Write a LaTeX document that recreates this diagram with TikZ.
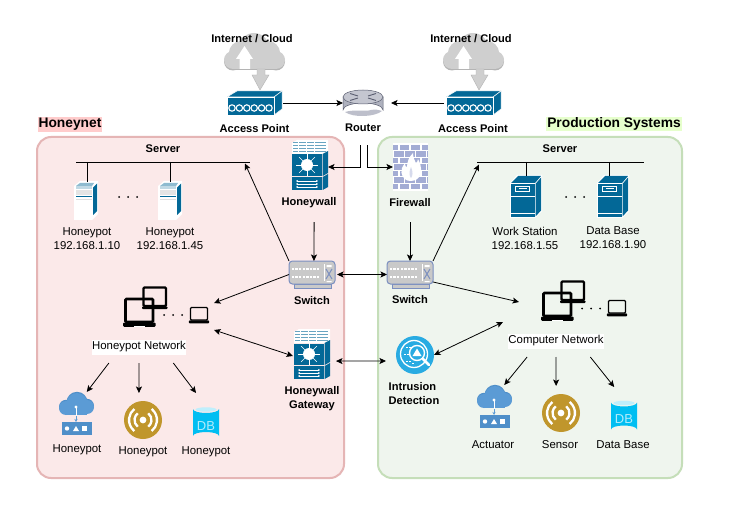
\documentclass[tikz,border=0pt]{standalone}
\usepackage{fontspec}
\setmainfont{Liberation Sans}
\usetikzlibrary{arrows.meta}
\definecolor{cisco}{HTML}{036897}
\definecolor{pinkfill}{HTML}{FBE9E9}
\definecolor{pinkline}{HTML}{E5B5B5}
\definecolor{greenfill}{HTML}{EFF5EE}
\definecolor{greenline}{HTML}{C5DEB9}
\definecolor{pinklabel}{HTML}{FFCCCC}
\definecolor{greenlabel}{HTML}{E6FFCC}
\definecolor{cloudgrey}{HTML}{CFCFCF}
\definecolor{cloudshade}{HTML}{B4B4B4}
\definecolor{brick}{HTML}{A3ACD4}
\definecolor{swgrey}{HTML}{C9C9C9}
\definecolor{swline}{HTML}{7B8FC0}
\definecolor{idsblue}{HTML}{29ABE2}
\definecolor{gold}{HTML}{C0962C}
\definecolor{dbblue}{HTML}{00BEF2}
\definecolor{cloudblue}{HTML}{5B9BD5}
\definecolor{devblue}{HTML}{4F8FC9}
\definecolor{routerbody}{HTML}{AEB1BE}
\definecolor{routertop}{HTML}{C4C6D0}
\definecolor{routerwave}{HTML}{BDBFCB}
\definecolor{routerline}{HTML}{5A5E70}
\tikzset{
  conn/.style={line width=0.8pt,-{Stealth[length=6.5pt,width=6pt,inset=1.5pt]}},
  biconn/.style={line width=0.8pt,{Stealth[length=6.5pt,width=6pt,inset=1.5pt]}-{Stealth[length=6.5pt,width=6pt,inset=1.5pt]}},
  plainline/.style={line width=0.9pt},
  iconbox/.style={rectangle,inner sep=0pt,outer sep=0pt},
  lab/.style={font=\fontsize{11.4}{14}\selectfont,align=center,inner sep=0pt},
  blab/.style={font=\fontsize{11.1}{14}\selectfont\bfseries,align=center,inner sep=0pt},
  panel/.style={rounded corners=14pt,line width=2pt},
  title/.style={font=\fontsize{13.8}{16}\selectfont\bfseries,inner sep=1pt},
  greycloud/.pic={
    \foreach \dy/\col in {1.5/cloudshade,0/cloudgrey}{
      \begin{scope}[yshift=-\dy pt]
        \fill[\col] (30,15) circle[radius=15];
        \fill[\col] (17,20) circle[radius=12];
        \fill[\col] (44,20) circle[radius=12];
        \fill[\col] (9,27) circle[radius=9];
        \fill[\col] (52,27) circle[radius=9];
        \fill[\col] (9,22) rectangle (52,36);
      \end{scope}
    }
    \fill[white] (15.5,36) -- (15.5,26) -- (12,26) -- (20.5,13) -- (29,26) -- (26,26) -- (26,36) -- cycle;
    \fill[cloudgrey,draw=cloudshade,line width=0.4pt] (33,36) -- (33,42) -- (28,42) -- (36,57) -- (45,42) -- (41,42) -- (41,36) -- cycle;
  },
  accesspoint/.pic={
    \fill[cisco,draw=white,line width=0.5pt] (0,0) -- (10,-6) -- (55,-6) -- (47,0) -- cycle;
    \fill[cisco,draw=white,line width=0.5pt] (47,0) -- (55,-6) -- (55,12) -- (47,18) -- cycle;
    \fill[cisco,draw=white,line width=0.5pt] (0,0) rectangle (47,18);
    \foreach \i in {5,12.4,19.8,27.2,34.6,42}
      \draw[white,line width=1.1pt] (\i,11) circle[radius=3.2];
  },
  routericon/.pic={
    \fill[routerbody,draw=routerline,line width=0.5pt] (-20,7) -- (-20,20) arc[start angle=180,end angle=360,x radius=20,y radius=7] -- (20,7) -- cycle;
    \fill[routerwave] (-18,22) .. controls (-8,19) and (2,22) .. (8,20) .. controls (12,19) and (16,20) .. (19,21) .. controls (12,27) and (-10,28) .. (-18,22) -- cycle;
    \fill[routertop,draw=routerline,line width=0.5pt] (0,7) ellipse[x radius=20,y radius=7];
    \draw[routerline,line width=0.9pt] (-13,3.5) -- (-5,6) (13,3.5) -- (5,6) (-13,10.5) -- (-5,8) (13,10.5) -- (5,8);
  },
  firewallicon/.pic={
    \fill[brick] (0,0) rectangle (35,46);
    \foreach \r in {0,1,...,7}
      \draw[white,line width=1.1pt] (0,\r*6.57) -- (35,\r*6.57);
    \foreach \r in {0,2,4,6}
      \foreach \c in {6,17,28}
        \draw[white,line width=1.1pt] (\c,\r*6.57) -- (\c,\r*6.57+6.57);
    \foreach \r in {1,3,5}
      \foreach \c in {0.5,11.5,22.5,33.5}
        \draw[white,line width=1.1pt] (\c,\r*6.57) -- (\c,\r*6.57+6.57);
    \fill[white] (18,37) .. controls (10,37) and (7,30) .. (9,24) .. controls (10,22) and (11,20) .. (12,20) .. controls (12,22) and (13,23) .. (14,23) .. controls (14,18) and (16,13) .. (20,9) .. controls (20,14) and (22,17) .. (23,19) .. controls (24,18) and (25,17) .. (25,15) .. controls (29,21) and (29,30) .. (26,33) .. controls (24,36) and (21,37) .. (18,37) -- cycle;
    \fill[brick!45] (18,34) .. controls (16,32) and (16,27) .. (18,23) .. controls (20,27) and (20,32) .. (18,34) -- cycle;
  },
  wallicon/.pic={
    \fill[white] (0,3) -- (5,0) -- (36,0) -- (36,11) -- (30,14) -- (0,14) -- cycle;
    \foreach \y in {2,5,8,11}
      \draw[cisco!60,line width=1pt] (1,\y+.5) -- (34,\y+.5);
    \foreach \x in {6,14,22}
      \draw[white,line width=.7pt] (\x,1) -- (\x,13);
    \fill[cisco] (0,14.5) rectangle (30,36);
    \fill[cisco] (30.6,14) -- (36,11) -- (36,33) -- (30.6,36) -- cycle;
    \fill[white] (15,25) circle[radius=6];
    \foreach \a in {0,45,...,315}
      \draw[white,line width=0.7pt] (15,25) -- +(\a:11);
    \fill[cisco] (0,37) rectangle (30,50);
    \fill[cisco] (30.6,37) -- (36,34) -- (36,47) -- (30.6,50) -- cycle;
    \foreach \y/\s in {41/1,44/0,47/1}
      \draw[white,line width=0.7pt,{Stealth[length=2pt,width=2pt]}-{Stealth[length=2pt,width=2pt]}] (4,\y) -- (26,\y);
  },
  whiteserver/.pic={
    \fill[white] (0,5) -- (6,0) -- (24,0) -- (24,33) -- (18,39) -- (0,39) -- cycle;
    \fill[cisco] (19,6.5) -- (23,2.5) -- (23,30) -- (19,34) -- cycle;
    \fill[cisco!25] (2,5) rectangle (18,8);
    \fill[cisco!45] (6,2) -- (20,2) -- (18,5) -- (2,5) -- cycle;
    \fill[swgrey!50] (2,9) rectangle (18,14);
    \draw[cisco,line width=0.9pt] (2,15.5) -- (18,15.5);
    \draw[swgrey!60,line width=0.5pt] (2,18) -- (18,18);
  },
  blueserver/.pic={
    \fill[white] (-1,7) -- (6,-1) -- (31,-1) -- (31,35) -- (24,42) -- (-1,42) -- cycle;
    \fill[cisco] (0,7) -- (7,0) -- (30,0) -- (24,7) -- cycle;
    \fill[cisco] (0,8) rectangle (23.5,41);
    \fill[cisco] (24.5,8) -- (30,1.5) -- (30,34.5) -- (24.5,40.5) -- cycle;
    \draw[white,line width=0.6pt] (4,10) rectangle (18,15);
    \fill[white] (8,11.7) rectangle (16,13.3);
    \draw[white,line width=0.8pt] (0,20.5) -- (23.5,20.5) (0,37) -- (23.5,37);
  },
  switchicon/.pic={
    \fill[swgrey,draw=swline,line width=0.7pt] (5,23) rectangle (42,27);
    \fill[swgrey,draw=swline,line width=1pt,rounded corners=3.5pt] (0,0) rectangle (46,23);
    \foreach \y in {8,16}
      \foreach \x in {4,7.6,...,32}
        \fill[white] (\x-1.2,\y-1.2) rectangle (\x+1.2,\y+1.2);
    \draw[white,line width=0.8pt] (35,3) -- (35,20);
    \draw[swline,line width=1pt] (37,8) -- (43,18) (43,8) -- (37,18);
    \fill[white] (37.5,4) rectangle (42.5,6) (37.5,20) rectangle (42.5,21);
  },
  idsicon/.pic={
    \fill[idsblue] (0,0) circle[radius=19];
    \draw[white,line width=1.3pt] (-1,-1) circle[radius=13.5];
    \fill[idsblue] (2,-2) circle[radius=8.5];
    \draw[white,line width=1.4pt] (2,-2) circle[radius=7.5];
    \fill[white] (2,-6.5) -- (6.5,1) -- (-2.5,1) -- cycle;
    \draw[white,line width=2.5pt,line cap=round] (8,4) -- (14,10);
    \foreach \x/\y in {-8/-8,-5/-8,-10/-1,-7/-1,-8/6,-5/6,-2/8}
      \draw[white,line width=0.6pt] (\x-1,\y) -- (\x+1,\y);
  },
  bluecloud/.pic={
    \foreach \dy/\col in {-1.2/devblue,0/cloudblue}{
      \begin{scope}[yshift=-\dy pt]
        \fill[\col] (18,10.5) circle[radius=10.5];
        \fill[\col] (7,15) circle[radius=7];
        \fill[\col] (28,14) circle[radius=7];
        \fill[\col] (7,14) rectangle (28,21.5);
      \end{scope}
    }
    \fill[white] (17,14) circle[radius=1.7];
    \draw[white,line width=0.8pt] (17,14) -- (17,22.5);
    \draw[cloudblue,line width=0.8pt,-{Stealth[length=3pt,width=3pt]}] (17,22.7) -- (17,29);
    \fill[devblue] (3,29) rectangle (33,42);
    \fill[white] (8,35.5) circle[radius=2.2];
    \fill[white] (17,33) -- (20,38) -- (14,38) -- cycle;
    \fill[white] (23,33.2) rectangle (28,38);
  },
  sensoricon/.pic={
    \fill[gold] (0,0) circle[radius=19];
    \fill[white] (0,0) circle[radius=3.4];
    \foreach \r in {8.5,14}{
      \draw[white,line width=2.3pt] (-52:\r) arc[start angle=-52,end angle=52,radius=\r];
      \draw[white,line width=2.3pt] (128:\r) arc[start angle=128,end angle=232,radius=\r];
    }
  },
  dbicon/.pic={
    \fill[dbblue] (0,4) -- (0,31) arc[start angle=180,end angle=360,x radius=13,y radius=4] -- (26,4) arc[start angle=0,end angle=180,x radius=13,y radius=4] -- cycle;
    \fill[white!75!dbblue] (13,4.5) ellipse[x radius=10.5,y radius=2.2];
  },
}
\newcommand{\laptopicon}[6]{%
  \draw[black,line width=#6,rounded corners=1pt] (#1,#2) rectangle (#3,#4);
  \fill[black,rounded corners=1pt] ({#1-#5},#4+#5*0.2) rectangle ({#3+#5},{#4+#5*1.7+0.5});
}
\begin{document}
\begin{tikzpicture}[x=1pt,y=-1pt]
\fill[white] (0,0) rectangle (747,505);
\useasboundingbox (0,0) rectangle (747,505);

% panels
\draw[panel,fill=pinkfill,draw=pinkline] (37,137) rectangle (344,478);
\draw[panel,fill=greenfill,draw=greenline] (378,137) rectangle (682,478);
\node[title,fill=pinklabel] (honeynet) at (70,124.5) {Honeynet};
\node[title,fill=greenlabel] (production) at (614,124) {Production Systems};

% icons
\pic at (224,33) {greycloud};
\pic at (443,33) {greycloud};
\pic at (227,97) {accesspoint};
\pic at (446,97) {accesspoint};
\pic at (363,90) {routericon};
\pic at (393,144) {firewallicon};
\pic at (292,140) {wallicon};
\pic at (294,329) {wallicon};
\pic at (74,181) {whiteserver};
\pic at (158,181) {whiteserver};
\pic at (511,176) {blueserver};
\pic at (598,176) {blueserver};
\pic at (289,261) {switchicon};
\pic at (387,261) {switchicon};
\pic at (415,355) {idsicon};

% laptops left
\laptopicon{143.5}{287.5}{166}{306}{1.5}{2.2pt}
\laptopicon{125.5}{299}{153}{322}{2.5}{2.6pt}
\laptopicon{190.5}{307.5}{207.5}{320}{1.7}{1.4pt}
\fill[white] (134,325.5) rectangle (145,327);
% laptops right
\laptopicon{561.5}{281.5}{584}{300}{1.5}{2.2pt}
\laptopicon{543.5}{293}{571}{316}{2.5}{2.6pt}
\laptopicon{608.5}{300.5}{625.5}{313}{1.7}{1.4pt}
\fill[white] (552,319.5) rectangle (563,321);

\foreach \x in {164,173,182} \fill (\x,315) circle[radius=1];
\foreach \x in {582,591,600} \fill (\x,308.5) circle[radius=1];
\foreach \x in {119,128,137} \fill (\x,197) circle[radius=1];
\foreach \x in {566,575,584} \fill (\x,197) circle[radius=1];

\pic at (59,393) {bluecloud};
\pic at (477,386) {bluecloud};
\pic at (143,420) {sensoricon};
\pic at (561,413) {sensoricon};
\pic at (193,405) {dbicon};
\pic at (611,398.5) {dbicon};

% invisible boxes marking each icon
\node[iconbox,minimum width=56,minimum height=24] (apL) at (255,103) {};
\node[iconbox,minimum width=57,minimum height=24] (apR) at (472.5,103) {};
\node[iconbox,minimum width=48,minimum height=27] (router) at (367,103) {};
\node[iconbox,minimum width=36,minimum height=46] (honeywall) at (310,167) {};
\node[iconbox,minimum width=35,minimum height=46] (firewall) at (410.5,167) {};
\node[iconbox,minimum width=48,minimum height=27] (swL) at (313,274.5) {};
\node[iconbox,minimum width=46,minimum height=27] (swR) at (410,274.5) {};
\node[iconbox,minimum width=43,minimum height=51] (gateway) at (314.5,354.5) {};
\node[iconbox,minimum width=48,minimum height=38] (ids) at (410,355) {};
\node[iconbox,minimum width=94,minimum height=44] (netL) at (167,308) {};
\node[iconbox,minimum width=113,minimum height=44] (netR) at (575.5,302) {};
\node[iconbox,minimum width=24,minimum height=40] (srvA) at (87,202) {};
\node[iconbox,minimum width=24,minimum height=40] (srvB) at (170,202) {};
\node[iconbox,minimum width=30,minimum height=42] (srvC) at (526,197) {};
\node[iconbox,minimum width=30,minimum height=42] (srvD) at (609,197) {};
\node[iconbox,minimum width=35,minimum height=44] (actL) at (76.5,414) {};
\node[iconbox,minimum width=35,minimum height=44] (actR) at (494.5,407) {};
\node[iconbox,minimum width=38,minimum height=46] (senL) at (143,416) {};
\node[iconbox,minimum width=38,minimum height=46] (senR) at (561,409) {};
\node[iconbox,minimum width=26,minimum height=47] (dbL) at (206,416.5) {};
\node[iconbox,minimum width=27,minimum height=46] (dbR) at (623.5,410) {};
\node[iconbox,minimum width=174,minimum height=0] (busL) at (163,162) {};
\node[iconbox,minimum width=167,minimum height=0] (busR) at (560.5,162) {};
\coordinate (tapL) at (245,163.5);
\coordinate (tapR) at (479,164.5);
\coordinate (netRin) at (503,322);

% labels
\node[blab] (cloudLlab) at (252,39) {Internet / Cloud};
\node[blab] (cloudRlab) at (471,39) {Internet / Cloud};
\node[blab] (apLlab) at (254.5,129) {Access Point};
\node[blab] (apRlab) at (473,129) {Access Point};
\node[blab,minimum height=34] (routerlab) at (363,128) {Router};
\node[blab] (serverL) at (163,149) {Server};
\node[blab] (serverR) at (560,149) {Server};
\node[blab,minimum height=38] (hwlab) at (309,203) {Honeywall};
\node[blab,minimum height=38] (fwlab) at (410,203) {Firewall};
\node[blab] (swLlab) at (312,301) {Switch};
\node[blab] (swRlab) at (410,300) {Switch};
\node[blab] (gwlab) at (312,399) {Honeywall\\Gateway};
\node[blab,align=left] (idslab) at (414,394) {Intrusion\\Detection};
\node[lab] (hp1) at (87,239) {Honeypot\\192.168.1.10};
\node[lab] (hp2) at (170,239) {Honeypot\\192.168.1.45};
\node[lab] (ws) at (525,238) {Work Station\\192.168.1.55};
\node[lab] (dbs) at (613,238) {Data Base\\192.168.1.90};
\node[lab,fill=white,minimum width=94,minimum height=15,outer ysep=8.5pt] (netLlab) at (139,347) {Honeypot Network};
\node[lab,fill=white,minimum width=95,minimum height=15,outer ysep=8.5pt] (netRlab) at (556,341) {Computer Network};
\node[lab] (l1) at (77,450) {Honeypot};
\node[lab] (l2) at (143,452) {Honeypot};
\node[lab] (l3) at (206,452) {Honeypot};
\node[lab] (r1) at (493,445) {Actuator};
\node[lab] (r2) at (560,445) {Sensor};
\node[lab] (r3) at (623,445) {Data Base};
\node[font=\fontsize{13}{14}\selectfont,text=white!70!dbblue,inner sep=0pt] (dbtL) at (206,426) {DB};
\node[font=\fontsize{13}{14}\selectfont,text=white!70!dbblue,inner sep=0pt] (dbtR) at (624,419) {DB};

% connectors
\draw[conn] (apL.east) -- (router.west);
\draw[conn] (apR.west) -- (router.east);
\draw[conn] (routerlab.260) |- (honeywall.east);
\draw[conn] (routerlab.283) |- (firewall.west);
\draw[conn] (hwlab.285) -- (swL.86);
\draw[conn] (fwlab.south) -- (swR.north);
\draw[biconn] (swL.east) -- (swR.west);
\draw[biconn] (gateway.343) -- (ids.194);
\draw[plainline] (busL.west) -- (busL.east);
\draw[plainline] (busR.west) -- (busR.east);
\draw[plainline] (srvA.north |- busL.center) -- (srvA.north);
\draw[plainline] (srvB.north |- busL.center) -- (srvB.north);
\draw[plainline] (srvC.north |- busR.center) -- (srvC.north);
\draw[plainline] (srvD.north |- busR.center) -- (srvD.north);
\draw[conn] (swL.north west) -- (tapL);
\draw[conn] (swR.north east) -- (tapR);
\draw[conn] (swL.west) -- (netL.6);
\draw[biconn] (gateway.184) -- (netL.south east);
\draw[conn] (swR.-18) -- (netR.west);
\draw[biconn] (ids.east) -- (netRin);
\draw[conn] (netLlab.208) -- (actL.65);
\draw[conn] (netLlab.south) -- (senL.100);
\draw[conn] (netLlab.335) -- (dbL.113);
\draw[conn] (netRlab.209) -- (actR.66);
\draw[conn] (netRlab.south) -- (senR.102);
\draw[conn] (netRlab.335) -- (dbR.112);
\end{tikzpicture}
\end{document}
